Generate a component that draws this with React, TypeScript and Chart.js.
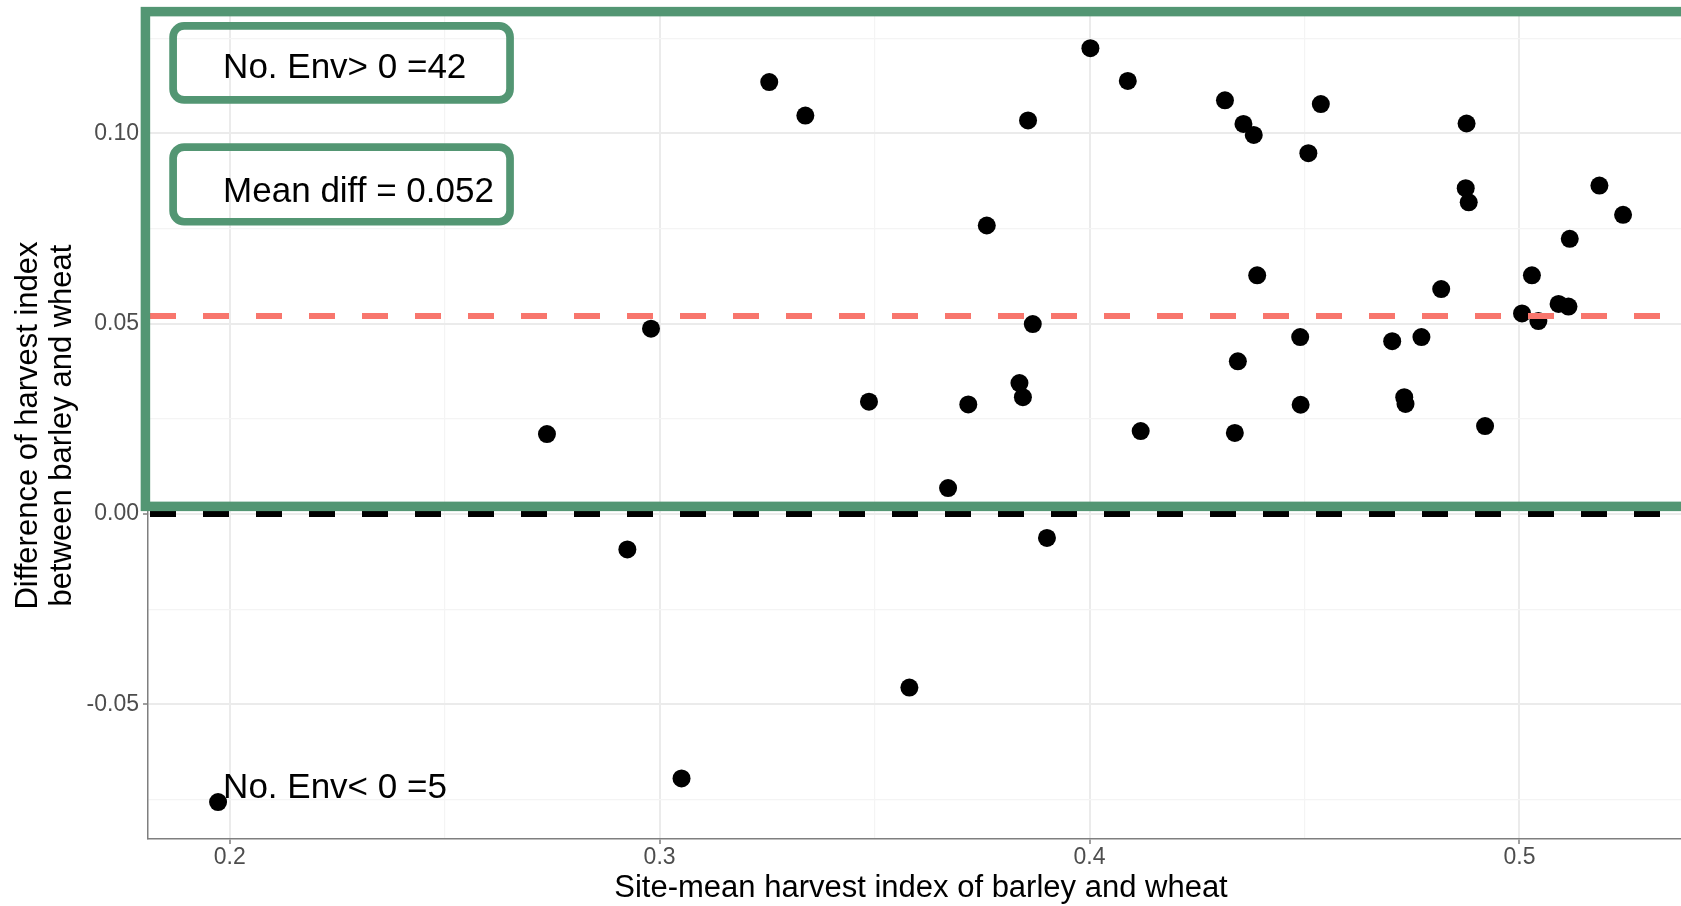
import React, { useEffect, useRef } from 'react';
import { Chart, registerables } from 'chart.js';

Chart.register(...registerables);

// ---------- data ----------
const siteMeanHI = [
  0.1973, 0.2738, 0.2925, 0.298, 0.3051, 0.3255, 0.3339, 0.3487, 0.3581, 0.3671,
  0.3718, 0.3761, 0.3837, 0.3845, 0.3857, 0.3868, 0.3901, 0.4002, 0.4089, 0.4119,
  0.4315, 0.4338, 0.4345, 0.4358, 0.4382, 0.439, 0.449, 0.4491, 0.4509, 0.4538,
  0.4704, 0.4732, 0.4735, 0.4772, 0.4818, 0.4877, 0.4875, 0.4882, 0.492, 0.5006,
  0.5029, 0.5044, 0.5091, 0.5114, 0.5117, 0.5186, 0.5241,
];
const hiDifference = [
  -0.0757, 0.021, -0.0093, 0.0487, -0.0695, 0.1135, 0.1047, 0.0295, -0.0456, 0.0068,
  0.0288, 0.0758, 0.0344, 0.0307, 0.1034, 0.0499, -0.0063, 0.1224, 0.1138, 0.0218,
  0.1087, 0.0213, 0.0401, 0.1025, 0.0996, 0.0627, 0.0465, 0.0287, 0.0948, 0.1077,
  0.0454, 0.0307, 0.0289, 0.0465, 0.0591, 0.1026, 0.0856, 0.0819, 0.0231, 0.0527,
  0.0627, 0.0507, 0.0552, 0.0545, 0.0723, 0.0863, 0.0786,
];
const meanDiff = 0.052;
const zeroLine = 0;

const xLimits = [0.181, 0.5406];
const yLimits = [-0.0854, 0.1319];
const xTickValues = [0.2, 0.3, 0.4, 0.5];
const xTickLabels = ['0.2', '0.3', '0.4', '0.5'];
const xMinorValues = [0.25, 0.35, 0.45];
const yTickValues = [-0.05, 0, 0.05, 0.1];
const yTickLabels = ['-0.05', '0.00', '0.05', '0.10'];
const yMinorValues = [-0.075, -0.025, 0.025, 0.075, 0.125];

const xTitle = 'Site-mean harvest index of barley and wheat';
const yTitle = ['Difference of harvest index', 'between barley and wheat'];
const countAboveLabel = 'No. Env> 0 =42';
const meanDiffLabel = 'Mean diff = 0.052';
const countBelowLabel = 'No. Env< 0 =5';

// annotation anchors (data units)
const frameArea = { x: 0.1804, yTop: 0.132, yBottom: 0.002 };
const boxXRange = [0.18684, 0.26521];
const box1YRange = [0.12825, 0.1088];
const box2YRange = [0.0964, 0.07679];
const labelX = 0.19847;
const countAboveY = 0.1145;
const meanDiffY = 0.0821;
const countBelowY = -0.0747;

// ---------- styles ----------
const FONT = '"Liberation Sans", Arial, Helvetica, sans-serif';
const GREEN = '#539673';
const isIn = (list: number[], v: number) => list.some((t) => Math.abs(t - v) < 1e-9);

const overlayPlugin = {
  id: 'overlay',
  afterDraw(chart: any) {
    const { ctx } = chart;
    const xs = chart.scales.x;
    const ys = chart.scales.y;
    ctx.save();
    // texts
    ctx.fillStyle = '#000';
    ctx.font = `35px ${FONT}`;
    ctx.textAlign = 'left';
    ctx.textBaseline = 'alphabetic';
    const tx = xs.getPixelForValue(labelX);
    ctx.fillText(countAboveLabel, tx, ys.getPixelForValue(countAboveY));
    ctx.fillText(meanDiffLabel, tx, ys.getPixelForValue(meanDiffY));
    ctx.fillText(countBelowLabel, tx, ys.getPixelForValue(countBelowY));

    // big frame
    ctx.strokeStyle = GREEN;
    ctx.lineWidth = 9.5;
    const fl = xs.getPixelForValue(frameArea.x);
    const ft = ys.getPixelForValue(frameArea.yTop);
    const fb = ys.getPixelForValue(frameArea.yBottom);
    ctx.strokeRect(fl, ft, chart.width + 50 - fl, fb - ft);

    // rounded boxes
    ctx.lineWidth = 7.7;
    const bl = xs.getPixelForValue(boxXRange[0]);
    const br = xs.getPixelForValue(boxXRange[1]);
    [box1YRange, box2YRange].forEach((r) => {
      const t = ys.getPixelForValue(r[0]);
      const b = ys.getPixelForValue(r[1]);
      ctx.beginPath();
      (ctx as any).roundRect(bl, t, br - bl, b - t, 11);
      ctx.stroke();
    });
    ctx.restore();
  },
};

export default function App() {
  const ref = useRef<HTMLCanvasElement | null>(null);

  useEffect(() => {
    if (!ref.current) return;
    const points = siteMeanHI.map((x, i) => ({ x, y: hiDifference[i] }));
    const allX = [...xTickValues, ...xMinorValues].sort((a, b) => a - b);
    const allY = [...yTickValues, ...yMinorValues].sort((a, b) => a - b);

    const chart = new Chart(ref.current, {
      type: 'scatter',
      data: {
        datasets: [
          {
            label: 'zero',
            data: [
              { x: xLimits[0], y: zeroLine },
              { x: xLimits[1], y: zeroLine },
            ],
            showLine: true,
            borderColor: '#000000',
            borderWidth: 6,
            borderDash: [26, 27],
            borderDashOffset: -2,
            pointRadius: 0,
            order: 0,
          } as any,
          {
            label: 'mean',
            data: [
              { x: xLimits[0], y: meanDiff },
              { x: xLimits[1], y: meanDiff },
            ],
            showLine: true,
            borderColor: '#F8766D',
            borderWidth: 6,
            borderDash: [26, 27],
            borderDashOffset: -2,
            pointRadius: 0,
            order: 0,
          } as any,
          {
            label: 'sites',
            data: points,
            backgroundColor: '#000000',
            borderWidth: 0,
            pointRadius: 9,
            pointHoverRadius: 9,
            order: 1,
          },
        ],
      },
      options: {
        responsive: false,
        maintainAspectRatio: false,
        devicePixelRatio: 1,
        animation: false,
        events: [],
        layout: { autoPadding: false, padding: { top: 12, left: 0, right: 0, bottom: 0 } },
        plugins: { legend: { display: false }, tooltip: { enabled: false } },
        scales: {
          x: {
            type: 'linear',
            min: xLimits[0],
            max: xLimits[1],
            afterBuildTicks: (s: any) => {
              s.ticks = allX.map((v) => ({ value: v }));
            },
            afterFit: (s: any) => {
              s.height = 67;
              s.paddingLeft = 0;
              s.paddingRight = 0;
            },
            ticks: {
              autoSkip: false,
              maxRotation: 0,
              padding: 0,
              color: '#4d4d4d',
              font: { family: FONT, size: 23, lineHeight: 1.2 },
              callback: (v: any) => {
                const i = xTickValues.findIndex((t) => Math.abs(t - Number(v)) < 1e-9);
                return i >= 0 ? xTickLabels[i] : '';
              },
            },
            grid: {
              color: (c: any) => (isIn(xTickValues, c.tick?.value) ? '#ebebeb' : '#f4f4f4'),
              lineWidth: (c: any) => (isIn(xTickValues, c.tick?.value) ? 2 : 1.2),
              tickColor: (c: any) => (isIn(xTickValues, c.tick?.value) ? '#7f7f7f' : 'rgba(0,0,0,0)'),
              tickLength: 5,
              tickWidth: 1.5,
            },
            border: { display: true, color: '#7f7f7f', width: 1.5 },
            title: {
              display: true,
              text: xTitle,
              color: '#000',
              font: { family: FONT, size: 31, lineHeight: 1.1 },
              padding: { top: 0, bottom: 0 },
            },
          },
          y: {
            type: 'linear',
            min: yLimits[0],
            max: yLimits[1],
            afterBuildTicks: (s: any) => {
              s.ticks = allY.map((v) => ({ value: v }));
            },
            afterFit: (s: any) => {
              s.width = 148;
              s.paddingTop = 0;
              s.paddingBottom = 0;
            },
            ticks: {
              autoSkip: false,
              padding: 4,
              color: '#4d4d4d',
              font: { family: FONT, size: 23, lineHeight: 1.2 },
              callback: (v: any) => {
                const i = yTickValues.findIndex((t) => Math.abs(t - Number(v)) < 1e-9);
                return i >= 0 ? yTickLabels[i] : '';
              },
            },
            grid: {
              color: (c: any) => (isIn(yTickValues, c.tick?.value) ? '#ebebeb' : '#f4f4f4'),
              lineWidth: (c: any) => (isIn(yTickValues, c.tick?.value) ? 2 : 1.2),
              tickColor: (c: any) => (isIn(yTickValues, c.tick?.value) ? '#7f7f7f' : 'rgba(0,0,0,0)'),
              tickLength: 5,
              tickWidth: 1.5,
            },
            border: { display: true, color: '#7f7f7f', width: 1.5 },
            title: {
              display: true,
              text: yTitle,
              color: '#000',
              font: { family: FONT, size: 31, lineHeight: 1.1 },
              padding: { top: 11, bottom: 0 },
            },
          },
        },
      },
      plugins: [overlayPlugin],
    } as any);
    return () => chart.destroy();
  }, []);

  return (
    <div
      style={{
        position: 'absolute',
        left: 0,
        top: 0,
        width: 1681,
        height: 906,
        overflow: 'hidden',
        background: '#ffffff',
      }}
    >
      <canvas ref={ref} width={1694} height={906} style={{ width: 1694, height: 906, display: 'block' }} />
    </div>
  );
}
